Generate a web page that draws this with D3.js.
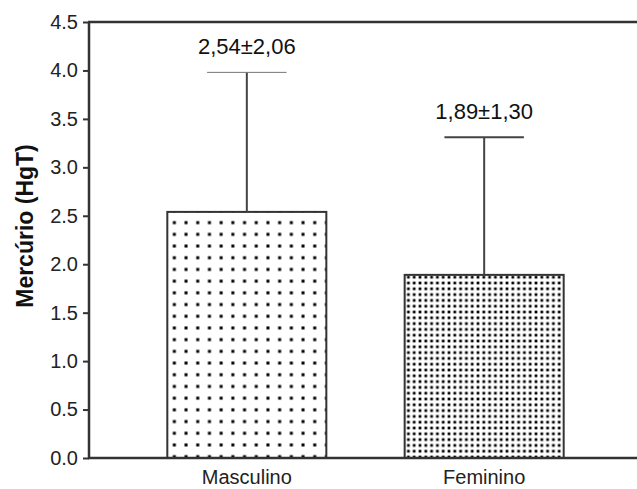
<!DOCTYPE html>
<html>
<head>
<meta charset="utf-8">
<script src="https://cdn.jsdelivr.net/npm/d3@7"></script>
<style>
  html, body { margin: 0; padding: 0; background: #fff; }
  svg { display: block; font-family: Arial, "Liberation Sans", sans-serif; }
</style>
</head>
<body>
<svg id="chart" width="637" height="489"></svg>
<script>
// Mercury (HgT) by sex: mean, SD as labelled, and the drawn upper whisker
const categories = ["Masculino", "Feminino"];
const means = [2.54, 1.89];
const sds = [2.06, 1.30];
const whiskerTops = [3.98, 3.31];
const yTicks = [0, 0.5, 1.0, 1.5, 2.0, 2.5, 3.0, 3.5, 4.0, 4.5];
const yTitle = "Mercúrio (HgT)";

const fmt = v => v.toFixed(2).replace(".", ",");

const svg = d3.select("#chart");
const axisColor = "#333";

const x = d3.scaleBand().domain(categories).range([89, 642]).padding(0.33);
const y = d3.scaleLinear().domain([0, 4.5]).range([458, 22]);

// dot fill patterns: sparse for the first bar, dense for the second
const defs = svg.append("defs");
function dotPattern(id, step, r, ox, oy) {
  const p = defs.append("pattern")
    .attr("id", id).attr("patternUnits", "userSpaceOnUse")
    .attr("width", step).attr("height", step)
    .attr("x", ox).attr("y", oy);
  p.append("rect").attr("width", step).attr("height", step).attr("fill", "#fff");
  p.append("rect").attr("x", step / 2 - r).attr("y", step / 2 - r)
    .attr("width", 2 * r).attr("height", 2 * r).attr("fill", "#000");
}
dotPattern("dotsSparse", 11.7, 1.5, 168.5, 275.3);
dotPattern("dotsDense", 5.8, 1.35, 405.5, 268.5);
const fills = ["url(#dotsSparse)", "url(#dotsDense)"];

// bars
svg.append("g").selectAll("rect")
  .data(categories)
  .join("rect")
  .attr("x", d => x(d))
  .attr("y", (d, i) => y(means[i]))
  .attr("width", x.bandwidth())
  .attr("height", (d, i) => y(0) - y(means[i]))
  .attr("fill", (d, i) => fills[i])
  .attr("stroke", axisColor)
  .attr("stroke-width", 2);

// whiskers
const eb = svg.append("g").attr("stroke", "#444");
categories.forEach((c, i) => {
  const cx = x(c) + x.bandwidth() / 2;
  eb.append("line")
    .attr("x1", cx).attr("x2", cx)
    .attr("y1", y(means[i])).attr("y2", y(whiskerTops[i]))
    .attr("stroke-width", 2);
  eb.append("line")
    .attr("x1", cx - x.bandwidth() / 4).attr("x2", cx + x.bandwidth() / 4)
    .attr("y1", y(whiskerTops[i])).attr("y2", y(whiskerTops[i]))
    .attr("stroke-width", i === 0 ? 1 : 2)
    .attr("stroke", i === 0 ? "#777" : "#444");
});

// mean ± SD labels
svg.append("g").selectAll("text")
  .data(categories)
  .join("text")
  .attr("x", d => x(d) + x.bandwidth() / 2)
  .attr("y", (d, i) => y(whiskerTops[i]) - 18)
  .attr("text-anchor", "middle")
  .attr("font-size", 22)
  .attr("fill", "#111")
  .text((d, i) => fmt(means[i]) + "±" + fmt(sds[i]));

// y axis
const yAxis = svg.append("g")
  .attr("transform", "translate(89,0)")
  .call(d3.axisLeft(y).tickValues(yTicks).tickFormat(d3.format(".1f")).tickSize(6).tickPadding(5));
yAxis.select(".domain").attr("stroke", axisColor).attr("stroke-width", 2.5)
  .attr("d", `M0,${y(4.5)}V${y(0)}`);
yAxis.selectAll(".tick line").attr("stroke", axisColor).attr("stroke-width", 2);
yAxis.selectAll(".tick text").attr("font-size", 20).attr("fill", "#222");

// top frame line and baseline
svg.append("line").attr("x1", 88).attr("x2", 637).attr("y1", y(4.5)).attr("y2", y(4.5))
  .attr("stroke", axisColor).attr("stroke-width", 2.5);

const xAxis = svg.append("g")
  .attr("transform", `translate(0,${y(0)})`)
  .call(d3.axisBottom(x).tickSize(0).tickPadding(12));
xAxis.select(".domain").attr("stroke", axisColor).attr("stroke-width", 2.5)
  .attr("d", "M88,0H637");
xAxis.selectAll(".tick text").attr("font-size", 20).attr("fill", "#222");

// y axis title
svg.append("text")
  .attr("transform", "translate(33,226) rotate(-90)")
  .attr("text-anchor", "middle")
  .attr("font-size", 23)
  .attr("font-weight", "bold")
  .attr("fill", "#111")
  .text(yTitle);
</script>
</body>
</html>
